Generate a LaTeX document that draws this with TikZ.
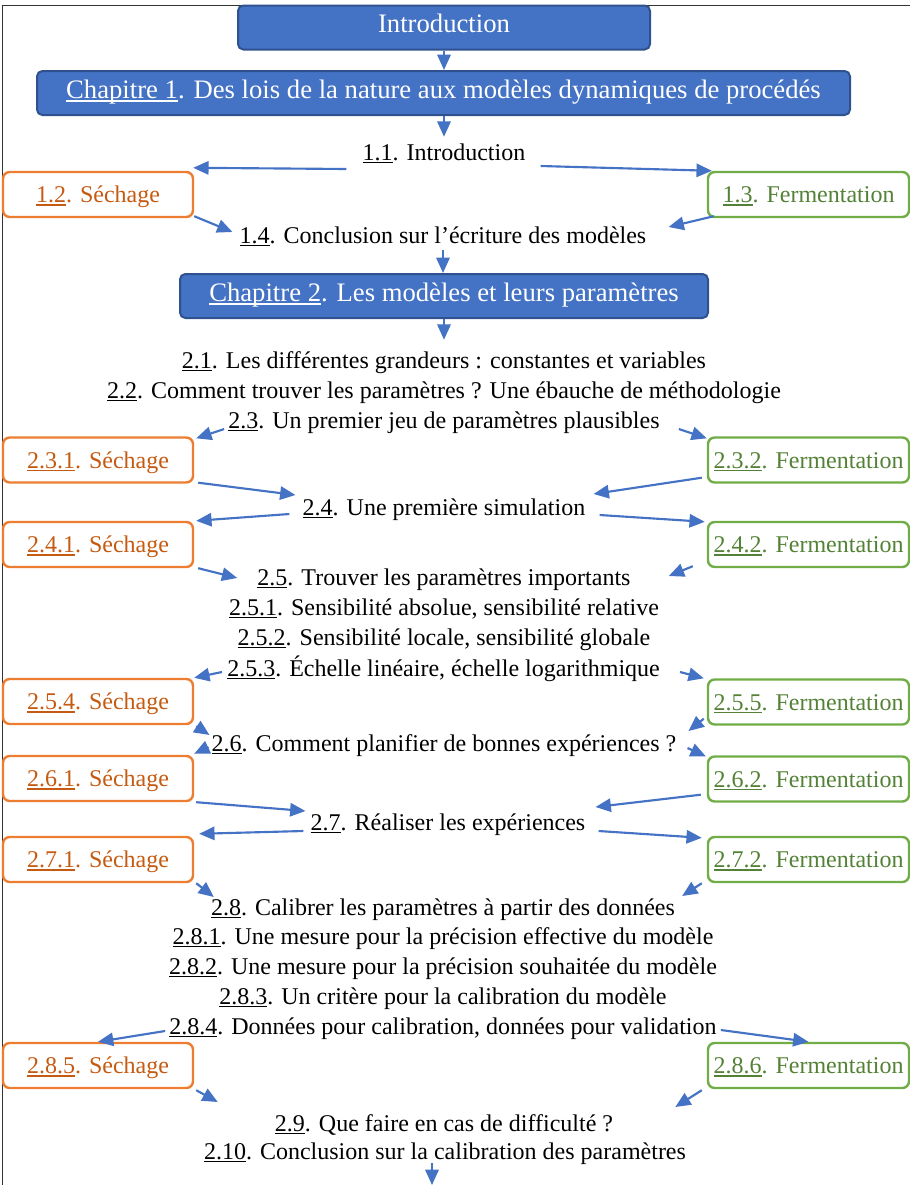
\documentclass[tikz,border=0pt]{standalone}
\usepackage{fontspec}
\setmainfont{Liberation Serif}
\usetikzlibrary{arrows.meta}
\definecolor{chapblue}{HTML}{4472C4}
\definecolor{chapedge}{HTML}{2F528F}
\definecolor{sechedge}{HTML}{ED7D31}
\definecolor{sechtext}{HTML}{C55A11}
\definecolor{fermedge}{HTML}{70AD47}
\definecolor{fermtext}{HTML}{538135}
\newcommand{\unum}[1]{\setbox0\hbox{#1}\rlap{\rule[-2.4pt]{\wd0}{1.1pt}}\box0}
\tikzset{
  chapbox/.style={draw=chapedge, fill=chapblue, line width=1.5pt, rounded corners=4pt, text=white, font=\fontsize{20}{24}\selectfont, text height=13.2pt, text depth=5pt, inner sep=0pt, minimum height=33pt},
  sechbox/.style={draw=sechedge, line width=1.8pt, rounded corners=5pt, text=sechtext, font=\fontsize{18}{22}\selectfont, text height=12pt, text depth=0pt, inner sep=0pt, minimum width=142.5pt, minimum height=33.75pt},
  fermbox/.style={sechbox, draw=fermedge, text=fermtext, minimum width=150.75pt},
  secline/.style={font=\fontsize{18}{22}\selectfont, text height=12pt, text depth=0pt, inner sep=0pt},
  arr/.style={draw=chapblue, line width=1.6pt, -{Triangle[length=11.5pt,width=10pt]}}
}
\begin{document}
\begin{tikzpicture}[x=0.75pt, y=-0.75pt]
\useasboundingbox (0,0) rectangle (910,1185);
% Frame
\draw[gray!40!black, line width=0.75pt] (910,5) -- (2,5) -- (2,1185);

% Chapter 1
\node[chapbox, minimum width=309pt] (intro) at (444,27.5) {Introduction};
\node[chapbox, minimum width=609.75pt] (chap1) at (443.5,93) {\unum{Chapitre 1}. Des lois de la nature aux modèles dynamiques de procédés};
\node[secline] (t11) at (444,152) {\unum{1.1}. Introduction};
\node[sechbox] (b12) at (98,194.5) {\unum{1.2}. Séchage};
\node[fermbox] (b13) at (808.5,194.5) {\unum{1.3}. Fermentation};
\node[secline] (t14) at (443,235) {\unum{1.4}. Conclusion sur l’écriture des modèles};

% Chapter 2
\node[chapbox, minimum width=396pt] (chap2) at (444,296) {\unum{Chapitre 2}. Les modèles et leurs paramètres};
\node[secline] (t21) at (444,360) {\unum{2.1}. Les différentes grandeurs : constantes et variables};
\node[secline] (t22) at (444,390) {\unum{2.2}. Comment trouver les paramètres ? Une ébauche de méthodologie};
\node[secline] (t23) at (444,420) {\unum{2.3}. Un premier jeu de paramètres plausibles};
\node[sechbox] (b231) at (98,460) {\unum{2.3.1}. Séchage};
\node[fermbox] (b232) at (808.5,460) {\unum{2.3.2}. Fermentation};
\node[secline] (t24) at (444,507) {\unum{2.4}. Une première simulation};
\node[sechbox] (b241) at (98,544.5) {\unum{2.4.1}. Séchage};
\node[fermbox] (b242) at (808.5,544.5) {\unum{2.4.2}. Fermentation};
\node[secline] (t25) at (444,577) {\unum{2.5}. Trouver les paramètres importants};
\node[secline] (t251) at (444,607) {\unum{2.5.1}. Sensibilité absolue, sensibilité relative};
\node[secline] (t252) at (444,637) {\unum{2.5.2}. Sensibilité locale, sensibilité globale};
\node[secline] (t253) at (443.5,668) {\unum{2.5.3}. Échelle linéaire, échelle logarithmique};
\node[sechbox] (b254) at (98,701.5) {\unum{2.5.4}. Séchage};
\node[fermbox] (b255) at (808.5,702) {\unum{2.5.5}. Fermentation};
\node[secline] (t26) at (444,743) {\unum{2.6}. Comment planifier de bonnes expériences ?};
\node[sechbox] (b261) at (98,778.5) {\unum{2.6.1}. Séchage};
\node[fermbox] (b262) at (808.5,779) {\unum{2.6.2}. Fermentation};
\node[secline] (t27) at (448,822) {\unum{2.7}. Réaliser les expériences};
\node[sechbox] (b271) at (98,859.5) {\unum{2.7.1}. Séchage};
\node[fermbox] (b272) at (808.5,859.5) {\unum{2.7.2}. Fermentation};
\node[secline] (t28) at (443,907) {\unum{2.8}. Calibrer les paramètres à partir des données};
\node[secline] (t281) at (443,936) {\unum{2.8.1}. Une mesure pour la précision effective du modèle};
\node[secline] (t282) at (443,966) {\unum{2.8.2}. Une mesure pour la précision souhaitée du modèle};
\node[secline] (t283) at (443,996) {\unum{2.8.3}. Un critère pour la calibration du modèle};
\node[secline] (t284) at (443,1026) {\unum{2.8.4}. Données pour calibration, données pour validation};
\node[sechbox] (b285) at (98,1065.5) {\unum{2.8.5}. Séchage};
\node[fermbox] (b286) at (808.5,1065.5) {\unum{2.8.6}. Fermentation};
\node[secline] (t29) at (444,1123) {\unum{2.9}. Que faire en cas de difficulté ?};
\node[secline] (t210) at (445,1151) {\unum{2.10}. Conclusion sur la calibration des paramètres};
\coordinate (suite) at (432,1185);

% Arrows, chapter 1
\draw[arr] (intro.south) -- (intro.south |- chap1.north);
\draw[arr] (t11.north |- chap1.south) -- ([shift={(0,-7)}]t11.north);
\draw[arr] ([shift={(-16,17)}]t11.west) -- ([shift={(-1,-3)}]b12.north east);
\draw[arr] ([shift={(15,14)}]t11.east) -- ([shift={(5,0)}]b13.north west);
\draw[arr] ([shift={(0,-2)}]b12.south east) -- ([shift={(-7,-3)}]t14.west);
\draw[arr] ([shift={(7,-2)}]b13.south west) -- ([shift={(22,-8)}]t14.east);
\draw[arr] ([shift={(0,7)}]t14.south) -- (t14.south |- chap2.north);

% Arrows, chapter 2
\draw[arr] (chap2.south) -- ([shift={(0,-12)}]t21.north);
\draw[arr] ([shift={(-4,9)}]t23.west) -- ([shift={(2,2)}]b231.north east);
\draw[arr] ([shift={(19,9)}]t23.east) -- ([shift={(0,2)}]b232.north west);
\draw[arr] ([shift={(4,-1)}]b231.south east) -- ([shift={(-7,-12)}]t24.west);
\draw[arr] ([shift={(-5,-6)}]b232.south west) -- ([shift={(8,-13)}]t24.east);
\draw[arr] ([shift={(-13,7)}]t24.west) -- ([shift={(2,0)}]b241.north east);
\draw[arr] ([shift={(14,8)}]t24.east) -- ([shift={(-2,1)}]b242.north west);
\draw[arr] ([shift={(4,0)}]b241.south east) -- ([shift={(-20,1)}]t25.west);
\draw[arr] ([shift={(-14,-2)}]b242.south west) -- ([shift={(38,-1)}]t25.east);
\draw[arr] ([shift={(-5,4)}]t253.west) -- (b254.north east);
\draw[arr] ([shift={(20,4)}]t253.east) -- ([shift={(-3,0)}]b255.north west);
\draw[arr] ([shift={(2,1)}]b254.south east) -- ([shift={(-2,-8)}]t26.west);
\draw[arr] ([shift={(-3,-7)}]b255.south west) -- ([shift={(12,-12)}]t26.east);
\draw[arr] ([shift={(-3,4)}]t26.west) -- ([shift={(0,-1)}]b261.north east);
\draw[arr] ([shift={(11,5)}]t26.east) -- ([shift={(-1,1)}]b262.north west);
\draw[arr] ([shift={(2,0)}]b261.south east) -- ([shift={(-5,-11)}]t27.west);
\draw[arr] ([shift={(-6,-8)}]b262.south west) -- ([shift={(10,-15)}]t27.east);
\draw[arr] ([shift={(-7,9)}]t27.west) -- ([shift={(5,-2)}]b271.north east);
\draw[arr] ([shift={(13,9)}]t27.east) -- ([shift={(-5,2)}]b272.north west);
\draw[arr] ([shift={(2,0)}]b271.south east) -- ([shift={(3,-10)}]t28.west);
\draw[arr] ([shift={(-5,0)}]b272.south west) -- ([shift={(7,-11)}]t28.east);
\draw[arr] ([shift={(-4,5)}]t284.west) -- (b285.north);
\draw[arr] ([shift={(4,4)}]t284.east) -- (b286.north);
\draw[arr] ([shift={(2,1)}]b285.south east) -- ([shift={(-57,-21)}]t29.west);
\draw[arr] ([shift={(-5,1)}]b286.south west) -- ([shift={(62,-16)}]t29.east);
\draw[arr] ([shift={(-13,4)}]t210.south) -- (suite);
\end{tikzpicture}
\end{document}
